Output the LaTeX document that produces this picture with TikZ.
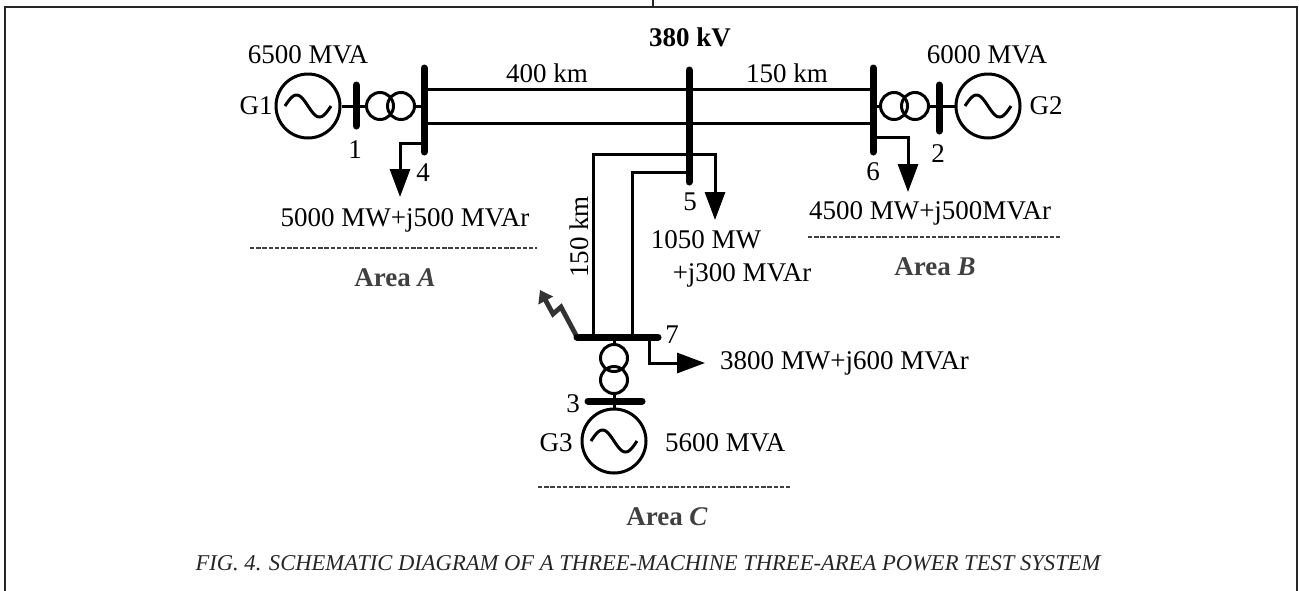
\documentclass[tikz,border=0pt]{standalone}
\usepackage{fontspec}
\setmainfont{Liberation Serif}
\usetikzlibrary{arrows.meta,positioning}
\tikzset{font=\fontsize{13.5}{16}\selectfont}
\tikzset{every node/.append style={transform shape=false}}

\begin{document}
\begin{tikzpicture}[x=0.5pt, y=-0.5pt,
  wire/.style={line width=1.5pt},
  bus/.style={line width=3.5pt, line cap=round},
  gen/.style={circle, draw, line width=1.5pt, minimum size=32pt, inner sep=0pt},
  trafo/.style={circle, draw, line width=1.5pt, minimum size=13.5pt, inner sep=0pt},
  load/.style={wire, -{Triangle[length=14pt, width=10pt]}},
  dashline/.style={black!75, line width=1.4pt, dash pattern=on 2.2pt off 0.9pt},
  area/.style={black!75, font=\fontsize{13.5}{16}\selectfont\bfseries}]
  \useasboundingbox (0,0) rectangle (1299,590);

  % frame
  \draw[line width=1pt, black!85] (5,600) -- (5,7) -- (1297,7) -- (1297,600);
  \draw[line width=1pt, black!85] (653,0) -- (653,7);

  % machines and transformers
  \node[gen] (G1) at (308,106) {};
  \node[gen] (G2) at (988,106) {};
  \node[gen] (G3) at (614,441) {};
  \node[trafo] (T1a) at (380,106) {};
  \node[trafo] (T1b) at (401,106) {};
  \node[trafo] (T2a) at (894,106) {};
  \node[trafo] (T2b) at (915,106) {};
  \node[trafo] (T3a) at (614,358) {};
  \node[trafo] (T3b) at (614,380) {};
  \foreach \g in {G1,G2,G3}{
               \draw[wire, shift={(\g)}] plot[samples=40, smooth, domain=-1:1](\x*23, {11*sin(\x*180)});
};

  % buses
  \coordinate (B1) at (356,106);
  \coordinate (B2) at (939,106);
  \coordinate (B3) at (614,401);
  \coordinate (B4) at (424,106);
  \coordinate (B5) at (689,106);
  \coordinate (B6) at (873,106);
  \coordinate (B7) at (614,337);
  \coordinate (L4) at (400,197);
  \coordinate (L5) at (715,220);
  \coordinate (L6) at (908,192);
  \coordinate (L7) at (705,363);
  \coordinate (F7) at (540,290);

  % connections
  \draw[wire] (G1) -- (B1) -- (T1a);
  \draw[wire] (T1b) -- (B4);
  \draw[wire] (B6) -- (T2a);
  \draw[wire] (T2b) -- (B2) -- (G2);
  \draw[wire] (B7) -- (T3a);
  \draw[wire] (T3b) -- (B3) -- (G3);
  \draw[wire] ([yshift=8.5pt]B4) -- ([yshift=8.5pt]B6);
  \draw[wire] ([yshift=-8.5pt]B4) -- ([yshift=-8.5pt]B6);
  \draw[wire] ([yshift=-24pt]B5) -| ([xshift=-10.5pt]B7);
  \draw[wire] ([yshift=-33pt]B5) -| ([xshift=9pt]B7);

  % loads
  \draw[load] ([yshift=-18.5pt]B4) -| (L4);
  \draw[load] ([yshift=-24pt]B5) -| (L5);
  \draw[load] ([yshift=-15.5pt]B6) -| (L6);
  \draw[load] ([xshift=17.5pt]B7) |- (L7);

  % fault
  \draw[line width=2.4pt, black!80, line join=miter, -{Triangle[length=6pt, width=8pt]}] (577,337) -- (561,307) -- (553,314) -- (F7);

  % bus bars
  \draw[bus] (356,85) -- (356,126);
  \draw[bus] (939,85) -- (939,131);
  \draw[bus] (424,68) -- (424,152);
  \draw[bus] (689,70) -- (689,182);
  \draw[bus] (873,68) -- (873,152);
  \draw[bus] (577,337) -- (658,337);
  \draw[bus] (588,401) -- (642,401);

  % labels
  \node (s1) at (308,55) {6500 MVA};
  \node (s2) at (987,55) {6000 MVA};
  \node[anchor=west] (s3) at (658,443) {5600 MVA};
  \node (g1) at (256,106) {G1};
  \node (g2) at (1046,106) {G2};
  \node (g3) at (556,443) {G3};
  \node (n1) at (355,150) {1};
  \node (n2) at (938,154) {2};
  \node (n3) at (573,404) {3};
  \node (n4) at (423,173) {4};
  \node (n5) at (690,202) {5};
  \node (n6) at (873,172) {6};
  \node (n7) at (672,335) {7};
  \node (kv) at (690,37) {\bfseries 380 kV};
  \node (d45) at (547,73) {400 km};
  \node (d56) at (787,73) {150 km};
  \node[rotate=90] (d57) at (579,237) {150 km};
  \node (p4) at (405,220) {5000 MW+j500 MVAr};
  \node (p5a) at (706,240) {1050 MW};
  \node (p5b) at (742,275) {+j300 MVAr};
  \node (p6) at (930,213) {4500 MW+j500MVAr};
  \node[anchor=west] (p7) at (713,363) {3800 MW+j600 MVAr};

  % areas
  \draw[dashline] (250,248) -- (537,248);
  \draw[dashline] (808,237) -- (1062,237);
  \draw[dashline] (538,487) -- (792,487);
  \node[area] (aA) at (395,278) {Area \textit{A}};
  \node[area] (aB) at (935,267) {Area \textit{B}};
  \node[area] (aC) at (667,517) {Area \textit{C}};

  \node[black!85] (caption) at (648,563) {\fontsize{11.3}{13}\selectfont\itshape FIG. 4. SCHEMATIC DIAGRAM OF A THREE-MACHINE THREE-AREA POWER TEST SYSTEM};
\end{tikzpicture}
\end{document}
